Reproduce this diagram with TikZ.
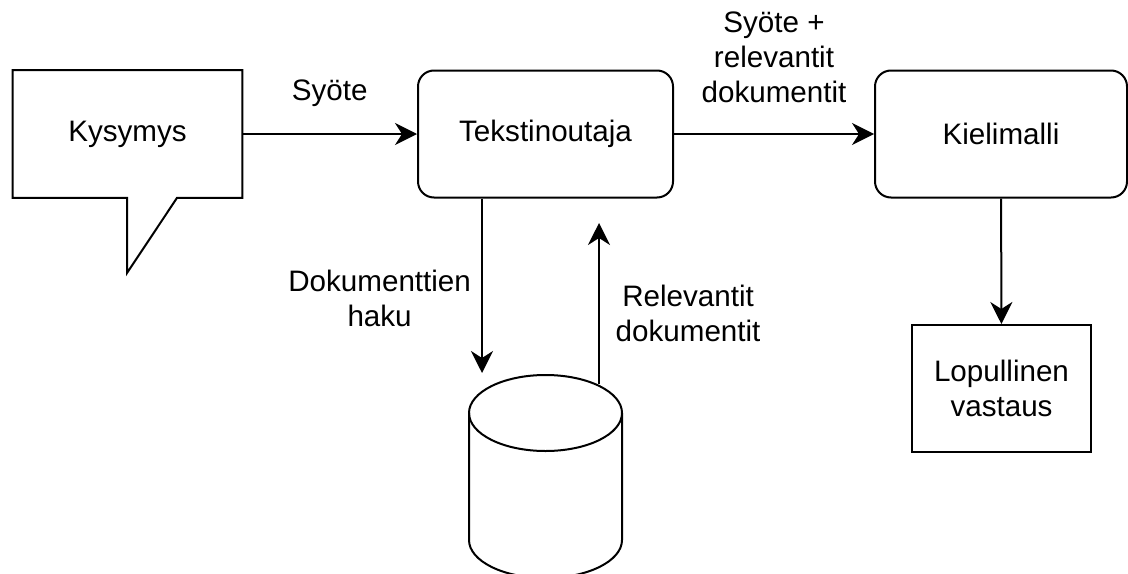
\documentclass[tikz,border=0pt]{standalone}
\usepackage{fontspec}
\setmainfont{Liberation Sans}
\usetikzlibrary{arrows.meta}

\begin{document}
\begin{tikzpicture}
        [
            x = 0.5pt, y = -0.5pt,
            boxed/.style      = {shape=rectangle, draw, line width=1pt, align=center, minimum height=63.5pt},
            rounded/.style    = {boxed, rounded corners=8pt},
            arrow/.style      = {draw, line width=1pt, -{Stealth[length=11pt, width=11pt, inset=3.5pt]}},
            every node/.style = {font=\fontsize{14.8}{17.5}\selectfont},
        ]
        \clip (0,0) rectangle (1128,573);

        % question bubble
        \node (kysymys) [minimum width=114.5pt, minimum height=63.5pt] at (127.5,134) {Kysymys};
        \coordinate (karki) at (127,273);
        \draw [line width=1pt] (kysymys.north west) -- (kysymys.north east) -- (kysymys.south east)
            -- ([xshift=25pt]kysymys.south -| karki) -- (karki) -- (kysymys.south -| karki)
            -- (kysymys.south west) -- cycle;

        \node (tekst) [rounded, minimum width=127.5pt] at (545.5,134) {Tekstinoutaja};
        \node (kielimalli) [rounded, minimum width=126pt] at (1001,134) {Kielimalli};
        \node (lopullinen) [boxed, minimum width=89.5pt] at (1001.5,388.5) {Lopullinen\\vastaus};

        % database
        \coordinate (db) at (545.5,413);
        \draw [line width=1pt] (db) ellipse [x radius=76.5, y radius=38];
        \draw [line width=1pt] ([xshift=-38.25pt]db) -- ++(0,127)
            arc [start angle=180, end angle=0, x radius=76.5, y radius=38] -- ([xshift=38.25pt]db);

        \coordinate (haku) at (482,373);
        \coordinate (tulos) at (599,384);
        \coordinate (tulosyla) at (599,223);

        \draw [arrow] (kysymys) -- (tekst) node [midway, above=10pt] {Syöte};
        \draw [arrow] (tekst) -- (kielimalli) node [midway, above=11.7pt, align=center] {Syöte +\\relevantit\\dokumentit};
        \draw [arrow] (tekst.south -| haku) -- (haku) node [pos=0.57, left=1.7pt, align=center] {Dokumenttien\\haku};
        \draw [arrow] (tulos) -- (tulosyla) node [pos=0.44, right=4.5pt, align=center] {Relevantit\\dokumentit};
        \draw [arrow] (kielimalli) -- (lopullinen);
    \end{tikzpicture}
\end{document}
